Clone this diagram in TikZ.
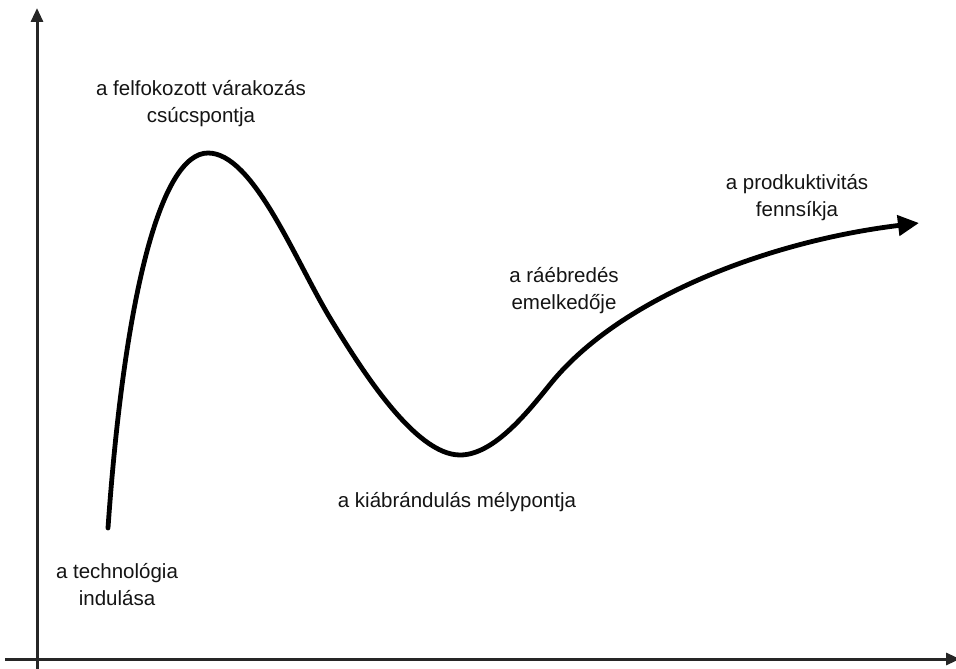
\documentclass[tikz,border=0pt]{standalone}
\usepackage{fontspec}
\setmainfont{Liberation Sans}
\usetikzlibrary{arrows.meta}
\begin{document}
\begin{tikzpicture}[x=1pt,y=-1pt,
  axis/.style={line width=3pt, draw=black!85},
  curve/.style={line width=4.8pt, draw=black, line cap=round},
  lbl/.style={align=center, inner sep=0pt, text=black!92,
    font=\fontsize{20.5}{27}\selectfont}]
\clip (0,0) rectangle (956,669);
% axes
\coordinate (yb) at (37,669);
\coordinate (yt) at (37,8);
\coordinate (xl) at (5,659);
\coordinate (xr) at (960,659);
\draw[axis,-{Triangle[length=14pt,width=12pt]}] (yb) -- (yt);
\draw[axis,-{Triangle[length=14pt,width=12pt]}] (xl) -- (xr);
% hype curve key points
\coordinate (start) at (108,528);
\coordinate (peak) at (208,153);
\coordinate (fall) at (330,318);
\coordinate (low) at (460,455);
\coordinate (rise) at (552,382);
\coordinate (tip) at (919,223);
\draw[curve,-{Triangle[length=21pt,width=20pt]}]
  (start) .. controls (124,300) and (160,153) .. (peak)
          .. controls (253,153) and (294,258) .. (fall)
          .. controls (361,369) and (415,455) .. (low)
          .. controls (495,455) and (530,409) .. (rise)
          .. controls (622,297) and (770,241) .. (tip);
% labels
\node[lbl] (lpeak) at (201,104) {a felfokozott várakozás\\csúcspontja};
\node[lbl] (lplateau) at (797,198) {a prodkuktivitás\\fennsíkja};
\node[lbl] (lslope) at (564,291) {a ráébredés\\emelkedője};
\node[lbl] (ltrough) at (457,502) {a kiábrándulás mélypontja};
\node[lbl] (ltrigger) at (117,585) {a technológia\\indulása};
\end{tikzpicture}
\end{document}
